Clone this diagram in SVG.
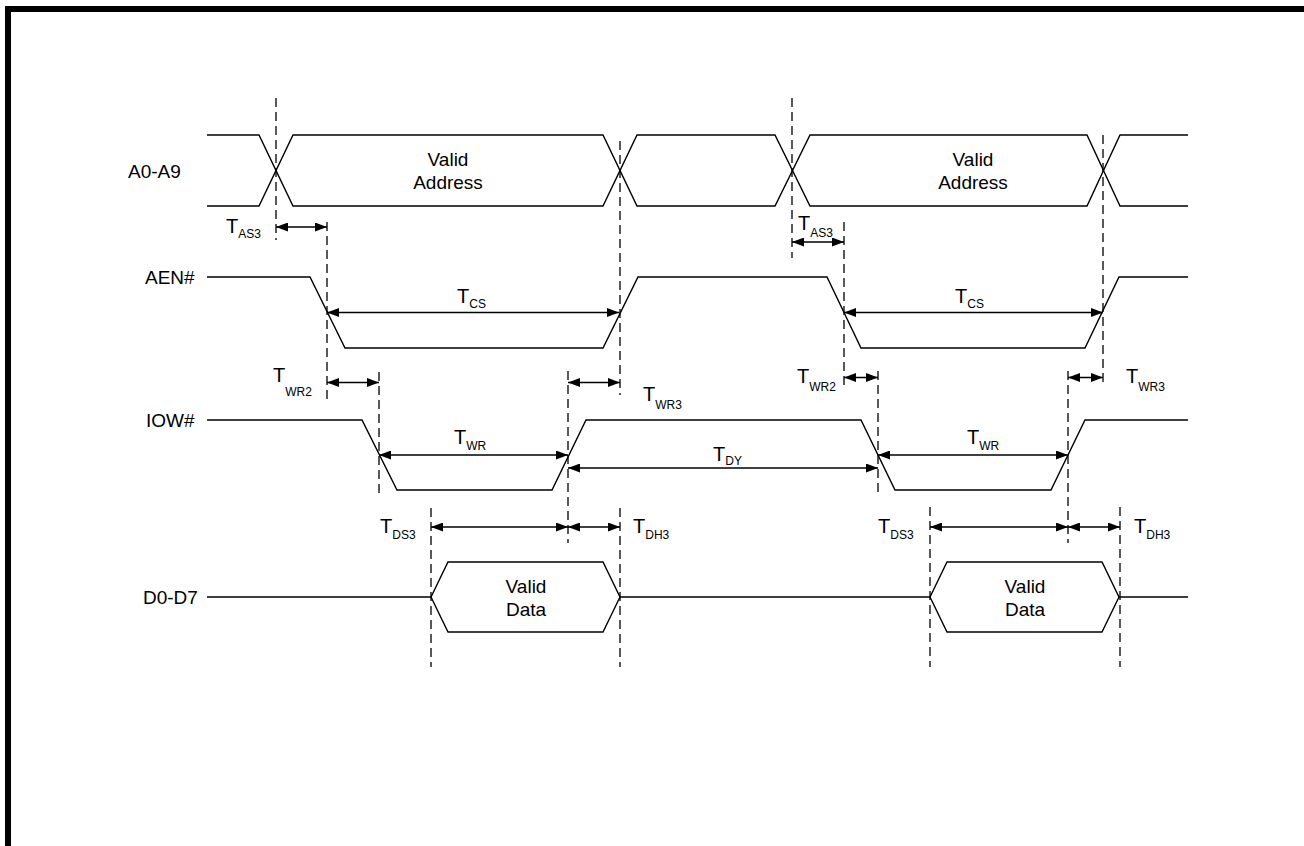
<svg xmlns="http://www.w3.org/2000/svg" width="1304" height="846" viewBox="0 0 1304 846">
<style>
.sig{fill:none;stroke:#000;stroke-width:1.4;stroke-linejoin:miter}
.dash{fill:none;stroke:#000;stroke-width:1.3;stroke-dasharray:9 5}
.arr{fill:none;stroke:#000;stroke-width:1.5;marker-start:url(#ah);marker-end:url(#ah)}
text{font-family:"Liberation Sans",Arial,sans-serif;fill:#000}
.lbl{font-size:19px}
.mid{font-size:19px;text-anchor:middle}
.t{font-size:20px}
.s{font-size:12px}
</style>
<defs>
<marker id="ah" markerUnits="userSpaceOnUse" markerWidth="12" markerHeight="9" refX="12" refY="4.5" orient="auto-start-reverse">
<path d="M0,0 L12,4.5 L0,9 z" fill="#000"/>
</marker>
</defs>
<rect width="1304" height="846" fill="#fff"/>
<path d="M8,846 V9 H1304" fill="none" stroke="#000" stroke-width="6"/>

<g id="a0-a9">
<text class="lbl" x="128" y="178">A0-A9</text>
<path class="sig" d="M207,135 H259 L293,206 H603 L637,135 H775 L810,206 H1087 L1120,135 H1188"/>
<path class="sig" d="M207,206 H259 L293,135 H603 L637,206 H775 L810,135 H1087 L1120,206 H1188"/>
<text class="mid" x="448" y="166">Valid</text>
<text class="mid" x="448" y="189">Address</text>
<text class="mid" x="973" y="166">Valid</text>
<text class="mid" x="973" y="189">Address</text>
</g>

<g id="aen">
<text class="lbl" x="145" y="284">AEN#</text>
<path class="sig" d="M207,277 H310 L345,348 H603 L638,277 H827 L861,348 H1085 L1119,277 H1188"/>
</g>

<g id="iow">
<text class="lbl" x="146" y="427">IOW#</text>
<path class="sig" d="M207,420 H362 L397,490 H552 L586,420 H861 L895,490 H1051 L1085,420 H1188"/>
</g>

<g id="d0-d7">
<text class="lbl" x="143" y="604">D0-D7</text>
<path class="sig" d="M207,597 H431 L448,562 H603 L620,597 H930 L947,562 H1102 L1119,597 H1188"/>
<path class="sig" d="M431,597 L448,632 H603 L620,597 M930,597 L947,632 H1102 L1119,597"/>
<text class="mid" x="526" y="593">Valid</text>
<text class="mid" x="526" y="616">Data</text>
<text class="mid" x="1025" y="593">Valid</text>
<text class="mid" x="1025" y="616">Data</text>
</g>

<g id="connectors">
<g id="guides">
<line class="dash" x1="276" y1="98" x2="276" y2="240"/>
<line class="dash" x1="327" y1="222" x2="327" y2="401"/>
<line class="dash" x1="379" y1="372" x2="379" y2="497"/>
<line class="dash" x1="568" y1="371" x2="568" y2="543"/>
<line class="dash" x1="620" y1="141" x2="620" y2="395"/>
<line class="dash" x1="792" y1="98" x2="792" y2="258"/>
<line class="dash" x1="844" y1="222" x2="844" y2="385"/>
<line class="dash" x1="878" y1="371" x2="878" y2="497"/>
<line class="dash" x1="1068" y1="371" x2="1068" y2="543"/>
<line class="dash" x1="1103" y1="135" x2="1103" y2="387"/>
<line class="dash" x1="431" y1="508" x2="431" y2="667"/>
<line class="dash" x1="620" y1="508" x2="620" y2="667"/>
<line class="dash" x1="930" y1="507" x2="930" y2="667"/>
<line class="dash" x1="1120" y1="507" x2="1120" y2="667"/>
</g>
<g id="arrows">
<line class="arr" x1="276" y1="227" x2="327" y2="227"/>
<line class="arr" x1="792" y1="242" x2="844" y2="242"/>
<line class="arr" x1="327" y1="312.5" x2="619" y2="312.5"/>
<line class="arr" x1="844" y1="312.5" x2="1103" y2="312.5"/>
<line class="arr" x1="327" y1="382.5" x2="379" y2="382.5"/>
<line class="arr" x1="568" y1="382.5" x2="620" y2="382.5"/>
<line class="arr" x1="844" y1="377.5" x2="878" y2="377.5"/>
<line class="arr" x1="1068" y1="377.5" x2="1103" y2="377.5"/>
<line class="arr" x1="379" y1="455" x2="568" y2="455"/>
<line class="arr" x1="878" y1="455" x2="1068" y2="455"/>
<line class="arr" x1="568" y1="468" x2="878" y2="468"/>
<line class="arr" x1="431" y1="527" x2="568" y2="527"/>
<line class="arr" x1="568" y1="527" x2="620" y2="527"/>
<line class="arr" x1="930" y1="527" x2="1068" y2="527"/>
<line class="arr" x1="1068" y1="527" x2="1120" y2="527"/>
</g>
<g id="timing-labels">
<text x="226" y="233"><tspan class="t">T</tspan><tspan class="s" dy="5">AS3</tspan></text>
<text x="798" y="230"><tspan class="t">T</tspan><tspan class="s" dy="7">AS3</tspan></text>
<text x="457" y="303"><tspan class="t">T</tspan><tspan class="s" dy="5">CS</tspan></text>
<text x="955" y="303"><tspan class="t">T</tspan><tspan class="s" dy="5">CS</tspan></text>
<text x="273" y="382"><tspan class="t">T</tspan><tspan class="s" dy="14">WR2</tspan></text>
<text x="643" y="401"><tspan class="t">T</tspan><tspan class="s" dy="8">WR3</tspan></text>
<text x="797" y="383"><tspan class="t">T</tspan><tspan class="s" dy="8">WR2</tspan></text>
<text x="1126" y="383"><tspan class="t">T</tspan><tspan class="s" dy="8">WR3</tspan></text>
<text x="454" y="444"><tspan class="t">T</tspan><tspan class="s" dy="6">WR</tspan></text>
<text x="967" y="444"><tspan class="t">T</tspan><tspan class="s" dy="6">WR</tspan></text>
<text x="713" y="461"><tspan class="t">T</tspan><tspan class="s" dy="4">DY</tspan></text>
<text x="380" y="533"><tspan class="t">T</tspan><tspan class="s" dy="6">DS3</tspan></text>
<text x="633" y="533"><tspan class="t">T</tspan><tspan class="s" dy="6">DH3</tspan></text>
<text x="878" y="533"><tspan class="t">T</tspan><tspan class="s" dy="6">DS3</tspan></text>
<text x="1134" y="533"><tspan class="t">T</tspan><tspan class="s" dy="6">DH3</tspan></text>
</g>
</g>
</svg>
